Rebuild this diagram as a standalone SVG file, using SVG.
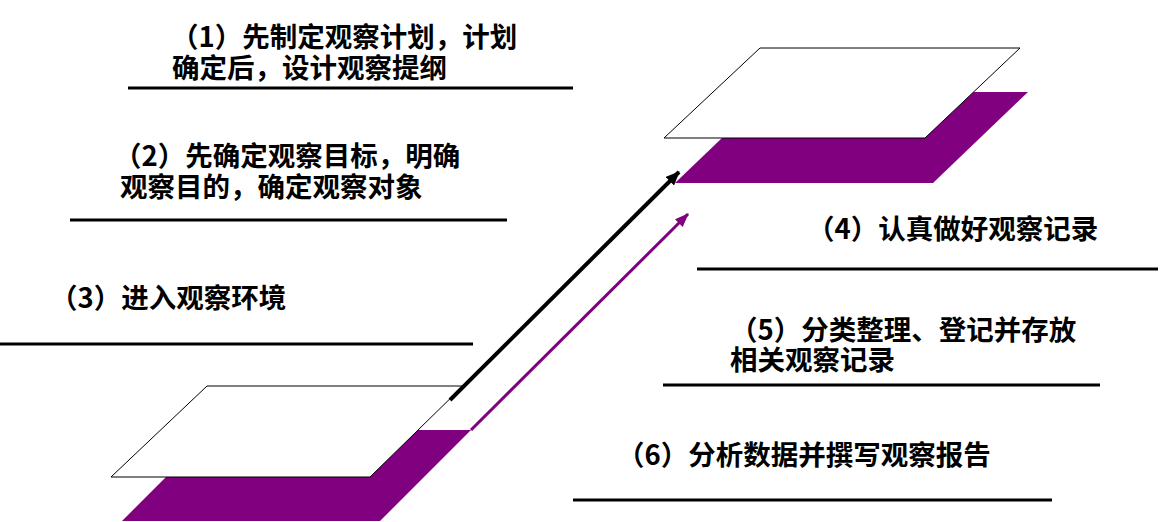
<svg xmlns="http://www.w3.org/2000/svg" width="1164" height="522" viewBox="0 0 1164 522">
<defs>
<style>
.t{font-family:"Noto Sans CJK SC","Noto Sans",sans-serif;font-weight:bold;font-size:27.5px;fill:#000}
.u{stroke:#000;stroke-width:3;fill:none}
.pp{fill:#800080;stroke:none}
.wp{fill:#fff;stroke:#000;stroke-width:1}
</style>
<marker id="ab" markerUnits="userSpaceOnUse" markerWidth="16" markerHeight="14" refX="13" refY="6" orient="auto">
<path d="M0,0 L14,6 L0,12 Z" fill="#000"/>
</marker>
<marker id="ap" markerUnits="userSpaceOnUse" markerWidth="16" markerHeight="14" refX="13" refY="5.5" orient="auto">
<path d="M0,0 L14,5.5 L0,11 Z" fill="#800080"/>
</marker>
</defs>
<g id="platform-bottom">
<polygon class="pp" points="213,430 471,430 380,521 122,521"/>
<polygon class="wp" points="207,386 463,386 370,477 111,477"/>
</g>
<g id="platform-top">
<polygon class="pp" points="770,92 1028,92 933,183 675,183"/>
<polygon class="wp" points="760,48 1020,48 925,138 664,138"/>
</g>
<g id="connectors">
<line x1="450" y1="400" x2="679" y2="172" stroke="#000" stroke-width="4" marker-end="url(#ab)"/>
<line x1="471" y1="430" x2="688" y2="214" stroke="#800080" stroke-width="3" marker-end="url(#ap)"/>
</g>
<g id="step1">
<text class="t" x="171" y="47">（1）先制定观察计划，计划</text>
<text class="t" x="172" y="78">确定后，设计观察提纲</text>
<line class="u" x1="128" y1="88" x2="573" y2="88"/>
</g>
<g id="step2">
<text class="t" x="114" y="166">（2）先确定观察目标，明确</text>
<text class="t" x="120" y="197">观察目的，确定观察对象</text>
<line class="u" x1="70" y1="220" x2="507" y2="220"/>
</g>
<g id="step3">
<text class="t" x="50" y="308">（3）进入观察环境</text>
<line class="u" x1="0" y1="344" x2="473" y2="344"/>
</g>
<g id="step4">
<text class="t" x="807" y="239">（4）认真做好观察记录</text>
<line class="u" x1="697" y1="269" x2="1158" y2="269"/>
</g>
<g id="step5">
<text class="t" x="730" y="340">（5）分类整理、登记并存放</text>
<text class="t" x="730" y="370">相关观察记录</text>
<line class="u" x1="663" y1="385" x2="1100" y2="385"/>
</g>
<g id="step6">
<text class="t" x="617" y="465">（6）分析数据并撰写观察报告</text>
<line class="u" x1="573" y1="500" x2="1052" y2="500"/>
</g>
</svg>
